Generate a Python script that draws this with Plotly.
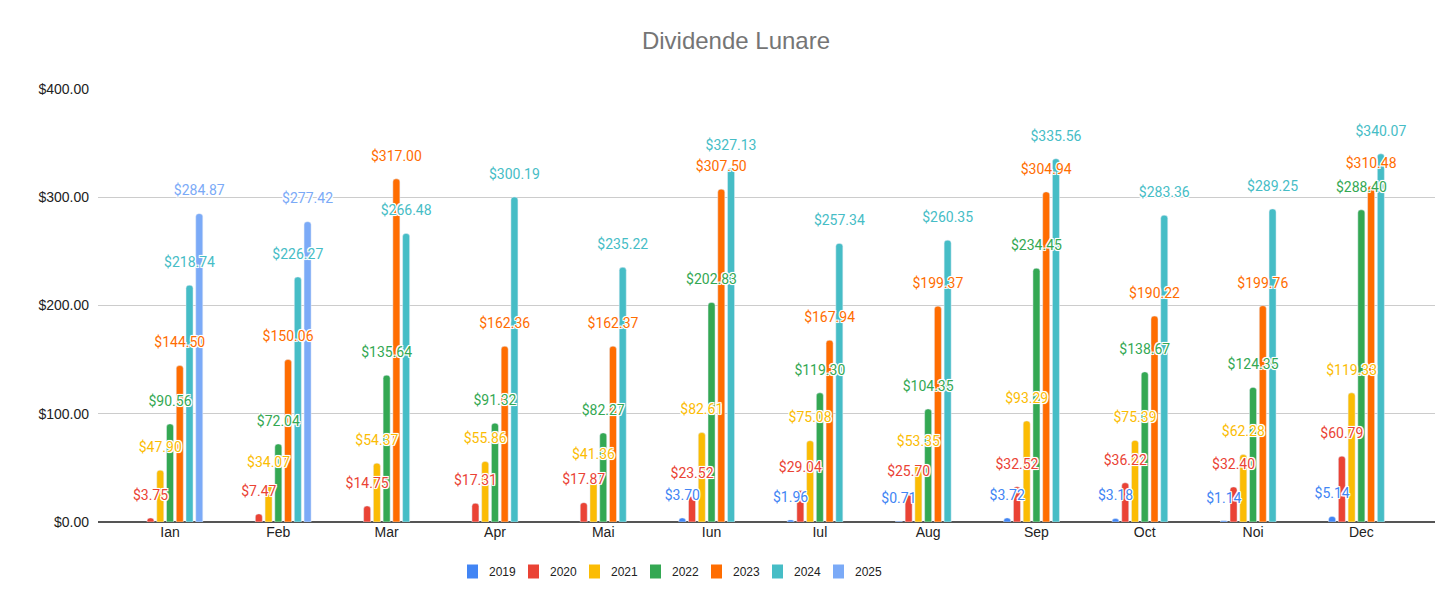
import plotly.graph_objects as go

months = ["Ian", "Feb", "Mar", "Apr", "Mai", "Iun", "Iul", "Aug", "Sep", "Oct", "Noi", "Dec"]

y2019 = [None, None, None, None, None, 3.70, 1.96, 0.71, 3.72, 3.18, 1.14, 5.14]
y2020 = [3.75, 7.47, 14.75, 17.31, 17.87, 23.52, 29.04, 25.70, 32.52, 36.22, 32.40, 60.79]
y2021 = [47.90, 34.07, 54.37, 55.86, 41.36, 82.61, 75.08, 53.35, 93.29, 75.39, 62.28, 119.33]
y2022 = [90.56, 72.04, 135.64, 91.32, 82.27, 202.83, 119.30, 104.35, 234.45, 138.67, 124.35, 288.40]
y2023 = [144.50, 150.06, 317.00, 162.36, 162.37, 307.50, 167.94, 199.37, 304.94, 190.22, 199.76, 310.48]
y2024 = [218.74, 226.27, 266.48, 300.19, 235.22, 327.13, 257.34, 260.35, 335.56, 283.36, 289.25, 340.07]
y2025 = [284.87, 277.42, None, None, None, None, None, None, None, None, None, None]

series = [
    ("2019", y2019, "#4285F4"),
    ("2020", y2020, "#EA4335"),
    ("2021", y2021, "#FBBC04"),
    ("2022", y2022, "#34A853"),
    ("2023", y2023, "#FF6D01"),
    ("2024", y2024, "#46BDC6"),
    ("2025", y2025, "#7BAAF7"),
]

W, H = 1456, 601
ML, MR, MT, MB = 90, 29, 81, 87
BARGAP = 0.37
XRANGE = [-0.665, 11.68]
halo = ("1px 0 1px #fff, -1px 0 1px #fff, 0 1px 1px #fff, 0 -1px 1px #fff, "
        "1px 1px 0 #fff, -1px -1px 0 #fff, 1px -1px 0 #fff, -1px 1px 0 #fff")


def paper_x(px):
    return (px - ML) / (W - ML - MR)


def paper_y(py):
    return (H - MB - py) / (H - MT - MB)


fig = go.Figure()

# bars
for name, vals, color in series:
    fig.add_trace(go.Bar(
        x=months, y=vals, name=name, showlegend=False,
        marker=dict(color=color, cornerradius=3),
    ))

# data labels on an overlay axis so they sit on top of every bar
n = len(series)
slot = (1 - BARGAP) / n
for k, (name, vals, color) in enumerate(series):
    xs, ys, labels = [], [], []
    for i, v in enumerate(vals):
        if v is None:
            continue
        xs.append(i + (k - (n - 1) / 2) * slot)
        ys.append(v)
        labels.append(f"${v:,.2f}")
    fig.add_trace(go.Scatter(
        x=xs, y=ys, xaxis="x2", mode="markers+text", showlegend=False,
        marker=dict(size=22, opacity=0), hoverinfo="skip",
        text=labels, textposition="top center", cliponaxis=False,
        textfont=dict(color=color, size=14, family="Roboto", shadow=halo),
    ))

# legend drawn by hand: square swatch + label
LEG_X0, LEG_STEP, LEG_Y = 464.5, 61, 563.5
for k, (name, vals, color) in enumerate(series):
    cx = LEG_X0 + k * LEG_STEP
    fig.add_shape(type="rect", xref="paper", yref="paper",
                  x0=paper_x(cx - 5.5), x1=paper_x(cx + 5.5),
                  y0=paper_y(LEG_Y + 7), y1=paper_y(LEG_Y - 7),
                  fillcolor=color, line=dict(width=0))
    fig.add_annotation(xref="paper", yref="paper", x=paper_x(cx + 14), y=paper_y(LEG_Y),
                       text=name, showarrow=False, xanchor="left", yanchor="middle",
                       font=dict(size=12, color="#222", family="Liberation Sans"))

fig.update_layout(
    title=dict(text="Dividende Lunare", x=0.5, xanchor="center", y=0.945, yanchor="middle",
               font=dict(size=24, color="#757575", family="Liberation Sans")),
    barmode="group",
    bargap=BARGAP,
    bargroupgap=0.28,
    width=W, height=H,
    margin=dict(l=ML, r=MR, t=MT, b=MB),
    showlegend=False,
    plot_bgcolor="white",
    paper_bgcolor="white",
    font=dict(family="Liberation Sans", size=14, color="#222"),
    xaxis=dict(range=XRANGE, showgrid=False, ticks="", showline=False, automargin=False,
               tickfont=dict(size=14, color="#222")),
    xaxis2=dict(range=XRANGE, overlaying="x", visible=False),
    yaxis=dict(range=[0, 400], dtick=100, tickformat="$,.2f", gridcolor="#cccccc",
               zeroline=True, zerolinecolor="#555555", zerolinewidth=2, automargin=False,
               ticks="", ticklabelstandoff=8, tickfont=dict(size=14, color="#222")),
)

fig.write_html("out.html")
